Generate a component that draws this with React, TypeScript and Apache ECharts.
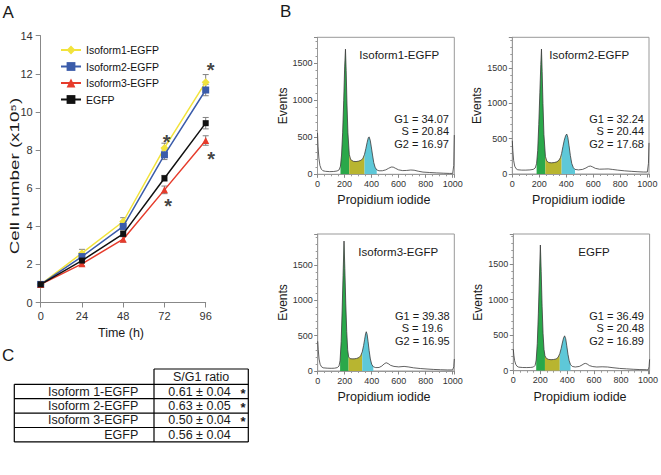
import React, { useEffect, useRef } from 'react';
import * as echarts from 'echarts';

const FONT = "'Liberation Sans', Arial, Helvetica, sans-serif";

// ---------- Panel A: growth curves ----------
const timePoints = [0, 24, 48, 72, 96];
const seriesNames = ['Isoform1-EGFP', 'Isoform2-EGFP', 'Isoform3-EGFP', 'EGFP'];
const iso1Values = [0.95, 2.59, 4.25, 8.11, 11.56];
const iso2Values = [0.95, 2.41, 3.99, 7.75, 11.15];
const iso3Values = [0.95, 2.03, 3.32, 5.91, 8.5];
const egfpValues = [0.95, 2.2, 3.6, 6.52, 9.41];
const iso1Err = [0.05, 0.2, 0.2, 0.25, 0.4];
const iso2Err = [0.05, 0.15, 0.2, 0.25, 0.3];
const iso3Err = [0.05, 0.1, 0.15, 0.2, 0.25];
const egfpErr = [0.05, 0.12, 0.15, 0.15, 0.3];
const asteriskPoints = [[73.3, 8.67], [98.9, 12.46], [99.1, 7.8], [74.2, 5.3]];

const seriesValues = [iso1Values, iso2Values, iso3Values, egfpValues];
const seriesErrors = [iso1Err, iso2Err, iso3Err, egfpErr];
const seriesColors = ['#f2e33c', '#3b5caa', '#e63c2c', '#111111'];
const seriesSymbols = ['diamond', 'rect', 'triangle', 'rect'];
const seriesSymbolSizes = [8, 7, 7, 6];

// ---------- Panel B: DNA content histograms [channel, events] ----------
const hist1Points = [
  [0, 560], [4, 380], [10, 220], [18, 120], [28, 70], [40, 48], [60, 40], [90, 36], [120, 38], [145, 45],
  [160, 60], [170, 110], [178, 260], [186, 560], [194, 1000], [201, 1450], [207, 1690], [212, 1400],
  [218, 950], [225, 560], [235, 270], [245, 200], [265, 175], [285, 172], [305, 178], [322, 190],
  [336, 215], [348, 270], [358, 350], [367, 430], [376, 495], [382, 505], [390, 460], [398, 370],
  [407, 260], [416, 160], [426, 95], [438, 60], [455, 47], [480, 48], [505, 60], [525, 80], [545, 98],
  [560, 97], [578, 80], [600, 60], [630, 50], [660, 52], [690, 58], [715, 55], [745, 42], [780, 30],
  [830, 24], [880, 19], [930, 15], [975, 12], [1000, 12], [1008, 120], [1012, 530],
];
const hist2Points = [
  [0, 470], [4, 330], [10, 190], [18, 110], [28, 75], [40, 60], [70, 55], [100, 55], [130, 58], [155, 65],
  [170, 85], [180, 150], [188, 330], [196, 700], [204, 1150], [211, 1550], [216, 1770], [221, 1450],
  [227, 1000], [234, 560], [245, 250], [255, 185], [270, 162], [290, 158], [310, 162], [330, 172],
  [345, 195], [356, 230], [365, 290], [375, 390], [385, 480], [395, 545], [403, 566], [411, 520],
  [420, 400], [430, 260], [440, 150], [452, 90], [464, 65], [490, 58], [520, 65], [545, 85], [565, 108],
  [580, 112], [595, 100], [615, 80], [645, 68], [680, 70], [710, 72], [740, 65], [780, 55], [830, 45],
  [880, 38], [930, 32], [970, 28], [1000, 28], [1008, 150], [1012, 440],
];
const hist3Points = [
  [0, 420], [4, 300], [10, 170], [18, 95], [28, 60], [40, 45], [70, 40], [100, 38], [125, 40], [145, 48],
  [158, 70], [166, 150], [174, 420], [181, 850], [188, 1350], [195, 1840], [201, 1450], [208, 950],
  [215, 560], [222, 300], [229, 200], [240, 175], [255, 172], [270, 172], [288, 178], [305, 190],
  [318, 215], [330, 270], [340, 360], [348, 450], [355, 530], [360, 556], [366, 520], [373, 420],
  [381, 290], [390, 170], [400, 95], [412, 60], [430, 48], [455, 50], [475, 70], [492, 100], [507, 117],
  [522, 105], [540, 80], [565, 65], [600, 58], [640, 65], [670, 58], [710, 45], [760, 35], [810, 28],
  [860, 22], [910, 18], [960, 15], [1000, 15], [1008, 60], [1012, 170],
];
const hist4Points = [
  [0, 300], [4, 220], [10, 140], [18, 90], [28, 62], [40, 50], [70, 45], [100, 44], [130, 46], [150, 52],
  [162, 75], [170, 150], [178, 380], [186, 800], [193, 1250], [201, 1770], [207, 1400], [214, 900],
  [221, 520], [228, 300], [235, 210], [245, 175], [260, 160], [280, 155], [300, 158], [318, 165],
  [333, 190], [345, 240], [355, 310], [364, 390], [373, 460], [381, 491], [389, 450], [397, 350],
  [406, 230], [415, 140], [425, 85], [438, 60], [460, 52], [490, 60], [510, 80], [525, 98], [535, 103],
  [548, 95], [565, 72], [590, 58], [620, 52], [660, 55], [700, 52], [740, 42], [790, 32], [840, 26],
  [890, 20], [940, 16], [990, 14], [1003, 14], [1008, 60], [1012, 160],
];
const histPoints = [hist1Points, hist2Points, hist3Points, hist4Points];
const histTitles = ['Isoform1-EGFP', 'Isoform2-EGFP', 'Isoform3-EGFP', 'EGFP'];
const histG1 = ['34.07', '32.24', '39.38', '36.49'];
const histS = ['20.84', '20.44', '19.6', '20.48'];
const histG2 = ['16.97', '17.68', '16.95', '16.89'];
const histYMax = [1850, 1936, 1940, 1925];
const histXMax = 1012;
// phase boundaries: G1 start, G1/S, S/G2, G2 end (channels)
const histPhaseBounds = [
  [170, 235, 348, 438],
  [180, 245, 365, 464],
  [166, 229, 330, 412],
  [170, 235, 345, 425],
];

// ---------- Panel C: table ----------
const tableHeader = 'S/G1 ratio';
const tableRows = ['Isoform 1-EGFP', 'Isoform 2-EGFP', 'Isoform 3-EGFP', 'EGFP'];
const tableRatios = ['0.61 ± 0.04', '0.63 ± 0.05', '0.50 ± 0.04', '0.56 ± 0.04'];
const tableSig = [true, true, true, false];

// ---------- layout ----------
const gridA = { left: 40.7, top: 35.7, width: 165, height: 266.8 };
const histGrids = [
  { left: 317.5, top: 37.3, width: 136.8, height: 137 },
  { left: 512.3, top: 37.3, width: 136.7, height: 136.7 },
  { left: 317.7, top: 234, width: 136.6, height: 137 },
  { left: 513.3, top: 234, width: 137.4, height: 136.7 },
];
const statsLayout = [
  { x: 449, align: 'right' },
  { x: 644, align: 'right' },
  { x: 422.3, align: 'center' },
  { x: 644, align: 'right' },
];
const titleLeft = [359.3, 549.3, 358.3, 578.3];

const PHASE_COLORS = ['#2aa84a', '#b8b530', '#5ec8d8'];

function seg(pts: number[][], a: number, b: number) {
  return pts.filter((p) => p[0] >= a && p[0] <= b);
}

function txt(text: string, x: number, y: number, size: number, extra: any = {}) {
  return {
    type: 'text',
    x,
    y,
    silent: true,
    style: {
      text,
      fontSize: size,
      fontFamily: FONT,
      fill: '#1a1a1a',
      align: extra.align || 'left',
      verticalAlign: 'middle',
      fontWeight: extra.fontWeight || 'normal',
    },
    ...(extra.el || {}),
  };
}

function hline(x1: number, x2: number, y: number) {
  return { type: 'line', silent: true, shape: { x1, y1: y, x2, y2: y }, style: { stroke: '#000', lineWidth: 1.2 } };
}
function vline(x: number, y1: number, y2: number) {
  return { type: 'line', silent: true, shape: { x1: x, y1, x2: x, y2 }, style: { stroke: '#000', lineWidth: 1.2 } };
}

const plainNum = (v: number) => String(v);

export default function App() {
  const ref = useRef<HTMLDivElement>(null);

  useEffect(() => {
    if (!ref.current) return;
    const chart = echarts.init(ref.current, undefined, { renderer: 'svg' });

    const grids: any[] = [{ ...gridA }];
    const xAxes: any[] = [
      {
        gridIndex: 0, type: 'value', min: 0, max: 96, interval: 24,
        axisLine: { show: true, lineStyle: { color: '#888', width: 1 } },
        axisTick: { show: true, length: 5, lineStyle: { color: '#888' } },
        axisLabel: { color: '#333', fontSize: 11, fontFamily: FONT, margin: 8, formatter: plainNum },
        splitLine: { show: false },
      },
    ];
    const yAxes: any[] = [
      {
        gridIndex: 0, type: 'value', min: 0, max: 14, interval: 2,
        axisLine: { show: true, lineStyle: { color: '#888', width: 1 } },
        axisTick: { show: true, length: 5, lineStyle: { color: '#888' } },
        axisLabel: { color: '#333', fontSize: 11, fontFamily: FONT, margin: 8, formatter: plainNum },
        splitLine: { show: false },
      },
    ];
    const series: any[] = [];

    seriesNames.forEach((name, i) => {
      series.push({
        type: 'custom',
        xAxisIndex: 0, yAxisIndex: 0,
        silent: true,
        z: 1,
        data: timePoints.map((t, k) => [t, seriesValues[i][k] - seriesErrors[i][k], seriesValues[i][k] + seriesErrors[i][k]]),
        encode: { x: 0, y: [1, 2] },
        renderItem: (params: any, api: any) => {
          const x = api.value(0);
          const lo = api.coord([x, api.value(1)]);
          const hi = api.coord([x, api.value(2)]);
          const w = 3;
          const st = { stroke: '#808080', lineWidth: 1 };
          return {
            type: 'group',
            children: [
              { type: 'line', shape: { x1: lo[0], y1: lo[1], x2: hi[0], y2: hi[1] }, style: st },
              { type: 'line', shape: { x1: lo[0] - w, y1: lo[1], x2: lo[0] + w, y2: lo[1] }, style: st },
              { type: 'line', shape: { x1: hi[0] - w, y1: hi[1], x2: hi[0] + w, y2: hi[1] }, style: st },
            ],
          };
        },
      });
    });
    seriesNames.forEach((name, i) => {
      series.push({
        name,
        type: 'line',
        xAxisIndex: 0, yAxisIndex: 0,
        data: timePoints.map((t, k) => [t, seriesValues[i][k]]),
        symbol: seriesSymbols[i],
        symbolSize: seriesSymbolSizes[i],
        showSymbol: true,
        lineStyle: { color: seriesColors[i], width: 1.5 },
        itemStyle: { color: seriesColors[i], borderWidth: 0 },
        z: 3 + i,
      });
    });
    series.push({
      type: 'scatter',
      xAxisIndex: 0, yAxisIndex: 0,
      data: asteriskPoints,
      symbolSize: 1,
      clip: false,
      itemStyle: { color: 'rgba(0,0,0,0)' },
      silent: true,
      z: 10,
      label: {
        show: true, formatter: '*', position: 'inside', fontSize: 20, fontWeight: 'bold',
        color: '#111', fontFamily: FONT, offset: [0, 5],
      },
    });

    histPoints.forEach((pts, h) => {
      const gi = h + 1;
      grids.push({ ...histGrids[h], show: true, borderColor: '#999', borderWidth: 1 });
      xAxes.push({
        gridIndex: gi, type: 'value', min: 0, max: histXMax, interval: 200,
        axisLine: { show: true, lineStyle: { color: '#999', width: 1 } },
        axisTick: { show: true, length: 3.5, lineStyle: { color: '#888' } },
        minorTick: { show: true, splitNumber: 4, length: 2, lineStyle: { color: '#999' } },
        axisLabel: { color: '#333', fontSize: 9, fontFamily: FONT, margin: 5, showMaxLabel: false, formatter: plainNum },
        splitLine: { show: false },
        minorSplitLine: { show: false },
      });
      yAxes.push({
        gridIndex: gi, type: 'value', min: 0, max: histYMax[h], interval: 500,
        axisLine: { show: true, lineStyle: { color: '#999', width: 1 } },
        axisTick: { show: true, length: 3.5, lineStyle: { color: '#888' } },
        minorTick: { show: true, splitNumber: 5, length: 2, lineStyle: { color: '#999' } },
        axisLabel: { color: '#333', fontSize: 9, fontFamily: FONT, margin: 5, showMaxLabel: false, formatter: plainNum },
        splitLine: { show: false },
        minorSplitLine: { show: false },
      });
      const b = histPhaseBounds[h];
      [[b[0], b[1]], [b[1], b[2]], [b[2], b[3]]].forEach((rng, p) => {
        series.push({
          type: 'line',
          xAxisIndex: gi, yAxisIndex: gi,
          data: seg(pts, rng[0], rng[1]),
          symbol: 'none',
          silent: true,
          lineStyle: { width: 0 },
          areaStyle: { color: PHASE_COLORS[p], opacity: 1 },
          z: 2,
        });
      });
      series.push({
        type: 'line',
        xAxisIndex: gi, yAxisIndex: gi,
        data: pts,
        symbol: 'none',
        silent: true,
        lineStyle: { color: '#3a3a3a', width: 0.8 },
        z: 3,
      });
    });

    const graphics: any[] = [];
    // panel letters
    graphics.push(txt('A', 2.5, 12.5, 17));
    graphics.push(txt('B', 280, 11, 17));
    graphics.push(txt('C', 2, 355, 17));
    // panel A axis titles
    graphics.push(txt('Cell number (x10⁵)', 15, 176, 12.5, { align: 'center', el: { rotation: Math.PI / 2, scaleX: 1.5 } }));
    graphics.push(txt('Time (h)', 121, 333, 12.5, { align: 'center' }));

    // panel B texts
    histGrids.forEach((g, h) => {
      const cx = g.left + g.width / 2;
      const cy = g.top + g.height / 2;
      graphics.push(txt('Events', g.left - 35, cy, 12, { align: 'center', el: { rotation: Math.PI / 2 } }));
      graphics.push(txt('Propidium iodide', cx - 2, g.top + g.height + 26, 12.5, { align: 'center' }));
      graphics.push(txt(histTitles[h], titleLeft[h], g.top + 18, 11.5));
      const sl = statsLayout[h];
      graphics.push(txt('G1 = ' + histG1[h], sl.x, g.top + 81.5, 11, { align: sl.align }));
      graphics.push(txt('S = ' + histS[h], sl.x, g.top + 94, 11, { align: sl.align }));
      graphics.push(txt('G2 = ' + histG2[h], sl.x, g.top + 106.5, 11, { align: sl.align }));
    });

    // panel C table
    const tLeft = 14.3, tMid = 154, tRight = 248.3, tTop = 369, rowH = 14.4;
    const firstRowTop = tTop + 15.3;
    graphics.push(hline(tMid, tRight, tTop));
    graphics.push(vline(tMid, tTop, firstRowTop + rowH * tableRows.length));
    graphics.push(vline(tRight, tTop, firstRowTop + rowH * tableRows.length));
    graphics.push(vline(tLeft, firstRowTop, firstRowTop + rowH * tableRows.length));
    for (let r = 0; r <= tableRows.length; r++) {
      graphics.push(hline(tLeft, tRight, firstRowTop + rowH * r));
    }
    graphics.push(txt(tableHeader, (tMid + tRight) / 2, tTop + 7.7, 12.5, { align: 'center' }));
    tableRows.forEach((row, r) => {
      const cy = firstRowTop + rowH * r + rowH / 2;
      graphics.push(txt(row, 138.3, cy, 12.5, { align: 'right' }));
      graphics.push(txt(tableRatios[r], 168.3, cy, 12.5));
      if (tableSig[r]) graphics.push(txt('*', 243, cy + 1.5, 13, { align: 'center', fontWeight: 'bold' }));
    });

    chart.setOption({
      animation: false,
      backgroundColor: '#fff',
      textStyle: { fontFamily: FONT },
      grid: grids,
      xAxis: xAxes,
      yAxis: yAxes,
      legend: {
        data: seriesNames,
        orient: 'vertical',
        left: 55,
        top: 39.5,
        itemWidth: 20,
        itemHeight: 11,
        itemGap: 5.5,
        textStyle: { fontSize: 10.5, color: '#111', fontFamily: FONT },
        selectedMode: false,
      },
      series,
      graphic: graphics,
    });

    return () => chart.dispose();
  }, []);

  return (
    <div
      ref={ref}
      style={{ position: 'fixed', left: 0, top: 0, width: 661, height: 475, background: '#fff' }}
    />
  );
}
